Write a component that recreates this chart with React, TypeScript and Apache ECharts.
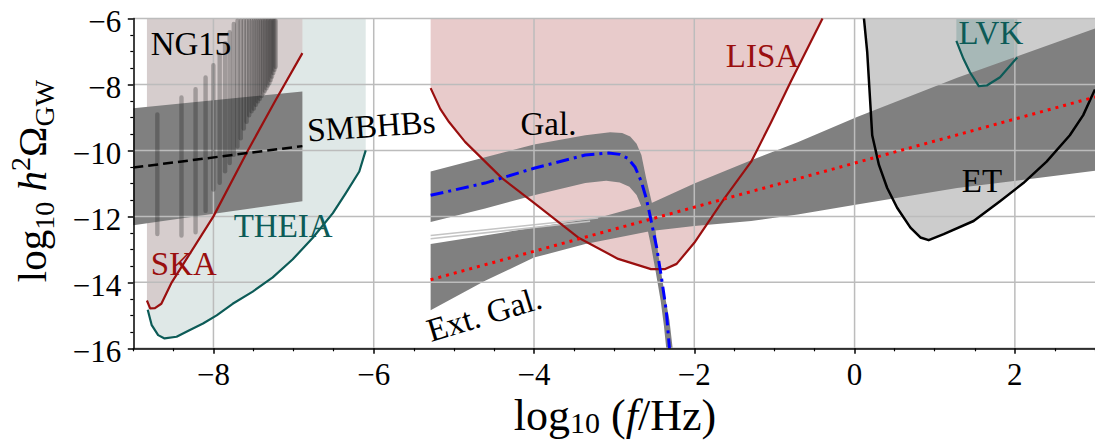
import React, { useEffect, useRef } from 'react';
import * as echarts from 'echarts';

const FONT = 'Liberation Serif';

// Axis extents and tick values
const X_MIN = -9;
const X_MAX = 3;
const Y_MIN = -16;
const Y_MAX = -6;
const X_MAJOR = [-8, -6, -4, -2, 0, 2];
const X_MINOR = [-9, -8.5, -7.5, -7, -6.5, -5.5, -5, -4.5, -3.5, -3, -2.5, -1.5, -1, -0.5, 0.5, 1, 1.5, 2.5, 3];
const Y_MAJOR = [-16, -14, -12, -10, -8, -6];

// THEIA sensitivity curve
const theiaX = [-8.82, -8.77, -8.69, -8.61, -8.46, -8.30, -8.13, -7.96, -7.76, -7.51, -7.26, -7.01, -6.76, -6.51, -6.35, -6.18, -6.10];
const theiaY = [-14.83, -15.30, -15.60, -15.70, -15.65, -15.45, -15.25, -15.00, -14.65, -14.28, -13.85, -13.30, -12.65, -11.90, -11.30, -10.64, -10.00];

// SKA sensitivity curve
const skaX = [-8.83, -8.79, -8.73, -8.65, -8.52, -8.00, -7.57, -7.23, -6.89];
const skaY = [-14.55, -14.79, -14.78, -14.65, -14.00, -12.00, -10.00, -8.50, -7.05];

// LISA sensitivity curve
const lisaX = [-5.29, -5.17, -5.06, -4.86, -4.40, -4.00, -3.45, -2.95, -2.54, -2.37, -2.22, -2.00, -1.62, -1.29, -1.04, -0.80, -0.40];
const lisaY = [-8.11, -8.74, -9.14, -9.74, -10.84, -11.59, -12.64, -13.29, -13.60, -13.60, -13.44, -12.80, -11.44, -10.34, -9.14, -7.93, -6.00];

// Einstein Telescope sensitivity curve
const etX = [0.117, 0.158, 0.220, 0.304, 0.407, 0.531, 0.697, 0.821, 0.925, 1.112, 1.485, 1.815, 2.106, 2.396, 2.686, 2.853, 2.956, 3.0];
const etY = [-6.00, -7.03, -9.54, -10.44, -11.14, -11.74, -12.34, -12.64, -12.72, -12.54, -12.14, -11.54, -10.99, -10.34, -9.54, -8.93, -8.38, -8.15];

// LVK sensitivity curve
const lvkX = [1.27, 1.36, 1.44, 1.55, 1.65, 1.815, 2.03];
const lvkY = [-6.68, -7.23, -7.63, -8.05, -8.03, -7.78, -7.18];

// SMBHB band and median
const smbhbX = [-9.0, -6.89];
const smbhbTopY = [-8.72, -8.21];
const smbhbBotY = [-12.27, -11.54];
const smbhbMidY = [-10.52, -9.87];

// NG15 free-spectrum bins (log10 f) with lower / upper extent
const ng15X = [-8.700, -8.399, -8.223, -8.098, -8.001, -7.922, -7.855, -7.797, -7.746, -7.700, -7.659, -7.621, -7.586, -7.554, -7.524, -7.496, -7.470, -7.445, -7.421, -7.399, -7.378, -7.358, -7.338, -7.320, -7.302, -7.285, -7.269, -7.253, -7.238, -7.223];
const ng15Low = [-12.60, -12.65, -12.55, -11.90, -11.25, -11.05, -10.70, -10.45, -10.20, -9.95, -9.70, -9.40, -9.20, -9.00, -8.88, -8.80, -8.68, -8.58, -8.50, -8.42, -8.33, -8.26, -8.18, -8.10, -8.03, -7.93, -7.83, -7.72, -7.62, -7.53];
const ng15High = [-8.84, -8.33, -8.08, -7.72, -7.35, -7.03, -6.68, -6.35, -6.10, -6.00, -6.00, -6.00, -6.00, -6.00, -6.00, -6.00, -6.00, -6.00, -6.00, -6.00, -6.00, -6.00, -6.00, -6.00, -6.00, -6.00, -6.00, -6.00, -6.00, -6.00];

// Galactic foreground band and median
const galTopX = [-5.29, -4.00, -3.36, -3.05, -2.90, -2.80, -2.72, -2.66, -2.60, -2.515, -2.45, -2.37, -2.31, -2.27];
const galTopY = [-10.64, -9.82, -9.54, -9.45, -9.47, -9.58, -9.80, -10.14, -10.85, -11.74, -13.14, -14.35, -15.15, -16.00];
const galBotX = [-5.29, -4.61, -4.00, -3.36, -3.10, -2.93, -2.81, -2.72, -2.66, -2.60, -2.54, -2.48, -2.42, -2.38, -2.35];
const galBotY = [-12.17, -11.76, -11.36, -10.99, -10.92, -10.97, -11.10, -11.35, -11.70, -12.20, -12.90, -13.70, -14.55, -15.30, -16.00];
const galMidX = [-5.29, -4.61, -4.00, -3.36, -3.07, -2.93, -2.83, -2.74, -2.66, -2.60, -2.555, -2.47, -2.41, -2.35, -2.31];
const galMidY = [-11.36, -10.99, -10.54, -10.14, -10.08, -10.12, -10.24, -10.50, -10.95, -11.45, -11.94, -12.94, -13.85, -14.85, -16.00];

// Extragalactic band and median
const extTopX = [-5.29, -4.00, -3.16, -2.54, -2.00, -1.29, -0.71, 0.03, 1.28, 3.00];
const extTopY = [-12.84, -12.34, -12.02, -11.60, -11.00, -10.30, -9.75, -8.99, -7.80, -6.30];
const extBotX = [-5.29, -4.61, -4.00, -3.36, -2.54, -2.00, -1.29, -0.71, 0.03, 1.28, 3.00];
const extBotY = [-14.85, -13.95, -13.25, -12.84, -12.44, -12.29, -12.14, -11.94, -11.64, -11.14, -10.62];
const extMidX = [-5.29, 3.00];
const extMidY = [-13.92, -8.38];
const extFaintAX = [-5.29, -3.20];
const extFaintAY = [-12.58, -12.05];
const extFaintBX = [-5.29, -3.30];
const extFaintBY = [-12.68, -12.15];

// Annotations (data coordinates)
const annText = ['NG15', 'SMBHBs', 'THEIA', 'SKA', 'LISA', 'Gal.', 'Ext. Gal.', 'LVK', 'ET'];
const annX = [-8.28, -6.03, -7.13, -8.37, -1.15, -3.82, -4.62, 1.70, 1.59];
const annY = [-6.76, -9.26, -12.29, -13.45, -7.15, -9.20, -14.97, -6.45, -10.94];

// Styles
const TEAL = '#0c5b57';
const DARKRED = '#9a0f0f';
const BAND = '#808080';
const annColor = ['#000', '#000', TEAL, DARKRED, DARKRED, '#000', '#000', TEAL, '#000'];
const annRotate = [0, 4, 0, 0, 0, 0, 17, 0, 0];

const fmt = (v: number) => (v < 0 ? '\u2212' + Math.abs(v) : String(v));

function polySeries(xs: number[], ys: number[], fill: string, z: number) {
  return {
    type: 'custom',
    coordinateSystem: 'cartesian2d',
    xAxisIndex: 0,
    yAxisIndex: 0,
    silent: true,
    clip: true,
    z,
    data: [[xs[0], ys[0]]],
    renderItem: (_p: any, api: any) => ({
      type: 'polygon',
      shape: { points: xs.map((x, i) => api.coord([x, ys[i]])) },
      style: { fill, stroke: 'none' },
    }),
  };
}

function lineSeries(xs: number[], ys: number[], color: string, width: number, type: any, z: number) {
  return {
    type: 'line',
    xAxisIndex: 0,
    yAxisIndex: 0,
    data: xs.map((x, i) => [x, ys[i]]),
    showSymbol: false,
    symbol: 'none',
    silent: true,
    clip: true,
    z,
    lineStyle: { color, width, type, cap: 'butt', join: 'round' },
  };
}

function regionAbove(xs: number[], ys: number[]) {
  const px = [...xs, xs[xs.length - 1], xs[0]];
  const py = [...ys, Y_MAX, Y_MAX];
  return [px, py];
}

function bandPoly(topX: number[], topY: number[], botX: number[], botY: number[]) {
  return [[...topX, ...botX.slice().reverse()], [...topY, ...botY.slice().reverse()]];
}

function buildOption() {
  const [thX, thY] = regionAbove(theiaX, theiaY);
  const [skX, skY] = regionAbove(skaX, skaY);
  const [liX, liY] = regionAbove(lisaX, lisaY);
  const etFX = [...etX, X_MAX];
  const etFY = [...etY, Y_MAX];
  const [lvX, lvY] = regionAbove(lvkX, lvkY);
  const [smX, smY] = bandPoly(smbhbX, smbhbTopY, smbhbX, smbhbBotY);
  const [gX, gY] = bandPoly(galTopX, galTopY, galBotX, galBotY);
  const [eX, eY] = bandPoly(extTopX, extTopY, extBotX, extBotY);

  const axisLine = { show: true, onZero: false, lineStyle: { color: '#000', width: 1.5 } };

  return {
    animation: false,
    textStyle: { fontFamily: FONT },
    grid: { left: 133.3, top: 15.7, width: 965.3, height: 332.6, containLabel: false },
    xAxis: [
      {
        type: 'value', gridIndex: 0, min: X_MIN, max: X_MAX, position: 'bottom', z: 10,
        axisLine,
        axisTick: { show: true, length: 3, customValues: X_MINOR, lineStyle: { color: '#000', width: 1.2 } },
        axisLabel: {
          margin: 13, customValues: X_MAJOR, fontFamily: FONT, fontSize: 31, color: '#000', lineHeight: 26,
          formatter: (v: number) => (Math.abs(v % 2) < 1e-9 ? `{t|${fmt(v)}}` : ''),
          rich: { t: { fontFamily: FONT, fontSize: 31, color: '#000', fill: '#000', lineHeight: 26 } },
        },
        splitLine: { show: false },
      },
      {
        type: 'value', gridIndex: 0, min: X_MIN, max: X_MAX, position: 'bottom', z: 10,
        axisLine: { show: false, onZero: false },
        axisTick: { show: true, length: 5.5, customValues: X_MAJOR, lineStyle: { color: '#000', width: 1.5 } },
        axisLabel: { show: false },
        splitLine: { show: false },
      },
    ],
    yAxis: [
      {
        type: 'value', gridIndex: 0, min: Y_MIN, max: Y_MAX, interval: 2, z: 10,
        axisLine,
        axisTick: { show: true, length: 5.5, lineStyle: { color: '#000', width: 1.5 } },
        minorTick: { show: true, splitNumber: 4, length: 3, lineStyle: { color: '#000', width: 1.2 } },
        axisLabel: {
          margin: 12, fontFamily: FONT, fontSize: 31, color: '#000',
          formatter: (v: number) => `{t|${fmt(v)}}`,
          rich: { t: { fontFamily: FONT, fontSize: 31, color: '#000', fill: '#000', lineHeight: 22, padding: [6, 0, 0, 0] } },
        },
        splitLine: { show: false },
      },
    ],
    graphic: [
      {
        type: 'text', x: 615, y: 415, z: 20,
        style: {
          text: '{m|log}{s|10}{m| (}{i|f}{m|/Hz)}',
          align: 'center', verticalAlign: 'middle', textAlign: 'center', textVerticalAlign: 'middle',
          rich: {
            m: { fontFamily: FONT, fontSize: 44, lineHeight: 44, fill: '#000' },
            i: { fontFamily: FONT, fontSize: 44, lineHeight: 44, fontStyle: 'italic', fill: '#000' },
            s: { fontFamily: FONT, fontSize: 30, lineHeight: 26, verticalAlign: 'bottom', fill: '#000' },
          },
        },
      },
      {
        type: 'text', x: 32, y: 181, rotation: Math.PI / 2, z: 20,
        style: {
          text: '{m|log}{s|10}{m| }{i|h}{p|2}{m|\u03A9}{s|GW}',
          align: 'center', verticalAlign: 'middle', textAlign: 'center', textVerticalAlign: 'middle',
          rich: {
            m: { fontFamily: FONT, fontSize: 41, lineHeight: 52, fill: '#000' },
            i: { fontFamily: FONT, fontSize: 41, lineHeight: 52, fontStyle: 'italic', fill: '#000' },
            s: { fontFamily: FONT, fontSize: 28, lineHeight: 28, verticalAlign: 'bottom', fill: '#000' },
            p: { fontFamily: FONT, fontSize: 28, lineHeight: 28, verticalAlign: 'top', fill: '#000' },
          },
        },
      },
    ],
    series: [
      // sensitivity regions
      polySeries(thX, thY, '#dfe8e7', 1),
      polySeries(skX, skY, '#d6cdcd', 1),
      polySeries(liX, liY, '#e8cbcb', 1),
      polySeries(etFX, etFY, '#cccccc', 1),
      polySeries(lvX, lvY, '#a7b8b7', 1),
      // signal bands
      polySeries(smX, smY, BAND, 2),
      lineSeries(extFaintAX, extFaintAY, '#c4c4c4', 1.6, 'solid', 2),
      lineSeries(extFaintBX, extFaintBY, '#c4c4c4', 1.6, 'solid', 2),
      polySeries(gX, gY, BAND, 2),
      polySeries(eX, eY, BAND, 2),
      // grid lines
      {
        type: 'custom', coordinateSystem: 'cartesian2d', xAxisIndex: 0, yAxisIndex: 0, silent: true, z: 3,
        data: X_MAJOR.map((v) => [v, Y_MIN]),
        renderItem: (_p: any, api: any) => {
          const a = api.coord([api.value(0), Y_MIN]);
          const b = api.coord([api.value(0), Y_MAX]);
          return { type: 'line', shape: { x1: a[0], y1: a[1], x2: b[0], y2: b[1] }, style: { stroke: '#bcbcbc', lineWidth: 1.5 } };
        },
      },
      {
        type: 'custom', coordinateSystem: 'cartesian2d', xAxisIndex: 0, yAxisIndex: 0, silent: true, z: 3,
        data: Y_MAJOR.map((v) => [X_MIN, v]),
        renderItem: (_p: any, api: any) => {
          const a = api.coord([X_MIN, api.value(1)]);
          const b = api.coord([X_MAX, api.value(1)]);
          return { type: 'line', shape: { x1: a[0], y1: a[1], x2: b[0], y2: b[1] }, style: { stroke: '#bcbcbc', lineWidth: 1.5 } };
        },
      },
      // NG15 violins
      {
        type: 'custom', coordinateSystem: 'cartesian2d', xAxisIndex: 0, yAxisIndex: 0, silent: true, clip: true, z: 4,
        data: ng15X.map((x, i) => [x, ng15Low[i], ng15High[i]]),
        encode: { x: 0, y: [1, 2] },
        renderItem: (_p: any, api: any) => {
          const lo = api.coord([api.value(0), api.value(1)]);
          const hi = api.coord([api.value(0), api.value(2)]);
          return {
            type: 'rect',
            shape: { x: hi[0] - 2.2, y: hi[1], width: 4.4, height: lo[1] - hi[1], r: 2.2 },
            style: { fill: 'rgba(20,20,20,0.28)' },
          };
        },
      },
      // curves
      lineSeries(theiaX, theiaY, TEAL, 2.2, 'solid', 5),
      lineSeries(skaX, skaY, DARKRED, 2.2, 'solid', 5),
      lineSeries(lisaX, lisaY, DARKRED, 2.2, 'solid', 5),
      lineSeries(etX, etY, '#000', 2.5, 'solid', 5),
      lineSeries(lvkX, lvkY, TEAL, 2.2, 'solid', 5),
      lineSeries(smbhbX, smbhbMidY, '#000', 2.5, [10, 5], 5),
      lineSeries(extMidX, extMidY, '#ff0000', 3, [3, 5], 5),
      lineSeries(galMidX, galMidY, '#0000ff', 3, [13, 5, 3, 5], 5),
      // annotations
      {
        type: 'custom', coordinateSystem: 'cartesian2d', xAxisIndex: 0, yAxisIndex: 0, silent: true, clip: false, z: 6,
        data: annX.map((x, i) => [x, annY[i], i]),
        renderItem: (_p: any, api: any) => {
          const i = api.value(2);
          const p = api.coord([api.value(0), api.value(1)]);
          return {
            type: 'text',
            x: p[0],
            y: p[1],
            rotation: (annRotate[i] * Math.PI) / 180,
            style: {
              text: `{t|${annText[i]}}`,
              fill: annColor[i],
              align: 'center', verticalAlign: 'middle', textAlign: 'center', textVerticalAlign: 'middle',
              rich: { t: { fontFamily: FONT, fontSize: 33, fill: annColor[i] } },
            },
          };
        },
      },
    ],
  };
}

export default function App() {
  const ref = useRef<HTMLDivElement>(null);
  useEffect(() => {
    const chart = echarts.init(ref.current as HTMLDivElement, null, { renderer: 'svg' });
    chart.setOption(buildOption() as any);
    return () => chart.dispose();
  }, []);
  return (
    <div
      ref={ref}
      style={{ position: 'absolute', left: 0, top: 0, width: 1095, height: 441, background: '#fff' }}
    />
  );
}
